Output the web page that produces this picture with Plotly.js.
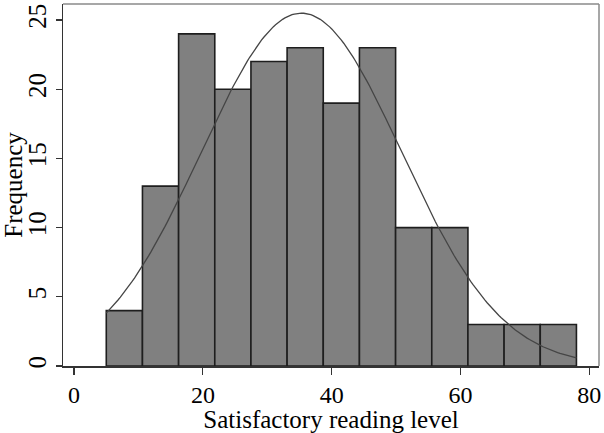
<!DOCTYPE html>
<html>
<head>
<meta charset="utf-8">
<script src="https://cdn.plot.ly/plotly-3.0.1.min.js"></script>
<style>html,body{margin:0;padding:0;background:#fff;}#chart{width:604px;height:433px;}</style>
</head>
<body>
<div id="chart"></div>
<script>
// Histogram bins
var binStart = 5;
var binWidth = 5.615;
var frequencies = [4, 13, 24, 20, 22, 23, 19, 23, 10, 10, 3, 3, 3];

// Normal density overlay parameters
var curveMean = 35.3;
var curveSD = 15.55;
var curveStart = 5;
var curveEnd = 78;

var xTickVals = [0, 20, 40, 60, 80];
var yTickVals = [0, 5, 10, 15, 20, 25];

var xTitle = "Satisfactory reading level";
var yTitle = "Frequency";

// derived
var binCenters = frequencies.map(function (f, i) { return binStart + binWidth * (i + 0.5); });
var total = frequencies.reduce(function (a, b) { return a + b; }, 0);
var scale = total * binWidth / (curveSD * Math.sqrt(2 * Math.PI));
var cx = [], cy = [];
var nPts = 200;
for (var k = 0; k <= nPts; k++) {
  var xv = curveStart + (curveEnd - curveStart) * k / nPts;
  var z = (xv - curveMean) / curveSD;
  cx.push(xv);
  cy.push(scale * Math.exp(-0.5 * z * z));
}

var font = "Liberation Serif, Times New Roman, serif";

var traces = [
  {
    type: "bar",
    x: binCenters,
    y: frequencies,
    width: binWidth,
    marker: { color: "#808080", line: { color: "#1e1e1e", width: 1.6 } },
    hoverinfo: "x+y"
  },
  {
    type: "scatter",
    mode: "lines",
    x: cx,
    y: cy,
    line: { color: "#454545", width: 1.3 },
    hoverinfo: "skip"
  }
];

var layout = {
  width: 604,
  height: 433,
  margin: { l: 63, r: 5, t: 4, b: 67 },
  paper_bgcolor: "#ffffff",
  plot_bgcolor: "#ffffff",
  showlegend: false,
  bargap: 0,
  font: { family: font, color: "#000000", size: 25 },
  xaxis: {
    range: [-1.72, 81.5],
    tickvals: xTickVals,
    ticktext: xTickVals.map(String),
    ticks: "outside",
    ticklen: 7,
    tickwidth: 1.2,
    tickcolor: "#333333",
    showgrid: false,
    zeroline: false,
    showline: true,
    linecolor: "#333333",
    linewidth: 1.5,
    tickfont: { family: font, size: 24, color: "#000" },
    title: { text: xTitle, font: { family: font, size: 25, color: "#000" }, standoff: 4 },
    automargin: false
  },
  yaxis: {
    range: [0, 26.16],
    tickvals: yTickVals,
    ticktext: yTickVals.map(String),
    ticks: "outside",
    ticklen: 6,
    tickwidth: 1.2,
    tickcolor: "#333333",
    tickangle: -90,
    showgrid: false,
    zeroline: false,
    showline: true,
    linecolor: "#333333",
    linewidth: 1.5,
    tickfont: { family: font, size: 25, color: "#000" },
    title: { text: yTitle, font: { family: font, size: 25, color: "#000" }, standoff: 4 },
    automargin: false
  },
  shapes: [
    { type: "line", xref: "paper", yref: "paper", x0: 0, x1: 1, y0: 1, y1: 1, line: { color: "#8a8a8a", width: 1.5 } },
    { type: "line", xref: "paper", yref: "paper", x0: 1, x1: 1, y0: 0, y1: 1, line: { color: "#8a8a8a", width: 1.5 } }
  ]
};

Plotly.newPlot("chart", traces, layout, { staticPlot: true, displayModeBar: false });
</script>
</body>
</html>
